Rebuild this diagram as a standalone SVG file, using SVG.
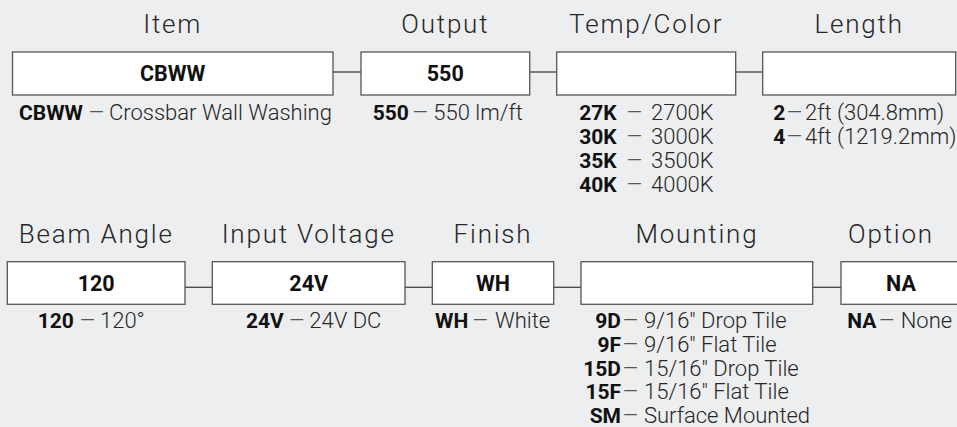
<svg xmlns="http://www.w3.org/2000/svg" width="957" height="427" viewBox="0 0 957 427">
<style>
.bg{fill:#EDEEF0}
.box{fill:#FFFFFF;stroke:#555555;stroke-width:1.3}
.con{stroke:#444444;stroke-width:1.3;fill:none}
.title{font-family:"Roboto Light",Roboto,"Liberation Sans",sans-serif;font-weight:300;font-size:26px;fill:#262626;text-anchor:middle;letter-spacing:1.8px}
.val{font-family:Roboto,"Liberation Sans",sans-serif;font-weight:700;font-size:21.5px;fill:#111111;text-anchor:middle}
.desc{font-family:"Roboto Light",Roboto,"Liberation Sans",sans-serif;font-weight:300;font-size:22px;fill:#262626}
.b{font-family:Roboto,"Liberation Sans",sans-serif;font-weight:700;font-size:21px;fill:#111111}
.d{fill:#555555}
</style>
<rect class="bg" x="0" y="0" width="957" height="427"/>
<g id="connectors">
<line class="con" x1="333" y1="72" x2="361" y2="72"/>
<line class="con" x1="529.7" y1="72" x2="556.7" y2="72"/>
<line class="con" x1="735.7" y1="72" x2="762.7" y2="72"/>
<line class="con" x1="185" y1="287.3" x2="212.3" y2="287.3"/>
<line class="con" x1="405" y1="287.3" x2="432.3" y2="287.3"/>
<line class="con" x1="553.7" y1="287.3" x2="581" y2="287.3"/>
<line class="con" x1="812.7" y1="287.3" x2="841" y2="287.3"/>
</g>
<g id="item">
<text class="title" x="172.7" y="33.3">Item</text>
<rect class="box" x="12.5" y="52" width="320.5" height="43"/>
<text class="val" x="172.7" y="81">CBWW</text>
<text class="desc" y="120"><tspan class="b" x="19">CBWW</tspan><tspan class="d" x="89" textLength="15" lengthAdjust="spacingAndGlyphs">—</tspan><tspan x="109">Crossbar Wall Washing</tspan></text>
</g>
<g id="output">
<text class="title" x="445.3" y="33.3">Output</text>
<rect class="box" x="361" y="52" width="168.7" height="43"/>
<text class="val" x="445.3" y="81">550</text>
<text class="desc" y="120"><tspan class="b" x="372.7">550</tspan><tspan class="d" x="412.7" textLength="15" lengthAdjust="spacingAndGlyphs">—</tspan><tspan x="433.3">550 lm/ft</tspan></text>
</g>
<g id="temp-color">
<text class="title" x="646.2" y="33.3">Temp/Color</text>
<rect class="box" x="556.7" y="52" width="179" height="43"/>
<text class="desc" y="120"><tspan class="b" x="616.7" text-anchor="end">27K</tspan><tspan class="d" x="627" textLength="15" lengthAdjust="spacingAndGlyphs">—</tspan><tspan x="651">2700K</tspan></text>
<text class="desc" y="144"><tspan class="b" x="616.7" text-anchor="end">30K</tspan><tspan class="d" x="627" textLength="15" lengthAdjust="spacingAndGlyphs">—</tspan><tspan x="651">3000K</tspan></text>
<text class="desc" y="168"><tspan class="b" x="616.7" text-anchor="end">35K</tspan><tspan class="d" x="627" textLength="15" lengthAdjust="spacingAndGlyphs">—</tspan><tspan x="651">3500K</tspan></text>
<text class="desc" y="192"><tspan class="b" x="616.7" text-anchor="end">40K</tspan><tspan class="d" x="627" textLength="15" lengthAdjust="spacingAndGlyphs">—</tspan><tspan x="651">4000K</tspan></text>
</g>
<g id="length">
<text class="title" x="859.2" y="33.3">Length</text>
<rect class="box" x="762.7" y="52" width="193" height="43"/>
<text class="desc" y="120"><tspan class="b" x="773.3">2</tspan><tspan class="d" x="787" textLength="15" lengthAdjust="spacingAndGlyphs">—</tspan><tspan x="805">2ft (304.8mm)</tspan></text>
<text class="desc" y="144"><tspan class="b" x="773.3">4</tspan><tspan class="d" x="787" textLength="15" lengthAdjust="spacingAndGlyphs">—</tspan><tspan x="805">4ft (1219.2mm)</tspan></text>
</g>
<g id="beam-angle">
<text class="title" x="96.2" y="243.3">Beam Angle</text>
<rect class="box" x="7.3" y="261.7" width="177.7" height="42.6"/>
<text class="val" x="96.2" y="291">120</text>
<text class="desc" y="328.3"><tspan class="b" x="37.7">120</tspan><tspan class="d" x="80" textLength="15" lengthAdjust="spacingAndGlyphs">—</tspan><tspan x="100">120°</tspan></text>
</g>
<g id="input-voltage">
<text class="title" x="308.7" y="243.3">Input Voltage</text>
<rect class="box" x="212.3" y="261.7" width="192.7" height="42.6"/>
<text class="val" x="308.7" y="291">24V</text>
<text class="desc" y="328.3"><tspan class="b" x="246">24V</tspan><tspan class="d" x="289.3" textLength="15" lengthAdjust="spacingAndGlyphs">—</tspan><tspan x="309.3">24V DC</tspan></text>
</g>
<g id="finish">
<text class="title" x="493" y="243.3">Finish</text>
<rect class="box" x="432.3" y="261.7" width="121.4" height="42.6"/>
<text class="val" x="493" y="291">WH</text>
<text class="desc" y="328.3"><tspan class="b" x="435">WH</tspan><tspan class="d" x="472.7" textLength="15" lengthAdjust="spacingAndGlyphs">—</tspan><tspan x="495">White</tspan></text>
</g>
<g id="mounting">
<text class="title" x="696.9" y="243.3">Mounting</text>
<rect class="box" x="581" y="261.7" width="231.7" height="42.6"/>
<text class="desc" y="328.3"><tspan class="b" x="621" text-anchor="end">9D</tspan><tspan class="d" x="623" textLength="15" lengthAdjust="spacingAndGlyphs">—</tspan><tspan x="644">9/16" Drop Tile</tspan></text>
<text class="desc" y="351.8"><tspan class="b" x="621" text-anchor="end">9F</tspan><tspan class="d" x="623" textLength="15" lengthAdjust="spacingAndGlyphs">—</tspan><tspan x="644">9/16" Flat Tile</tspan></text>
<text class="desc" y="375.5"><tspan class="b" x="621" text-anchor="end">15D</tspan><tspan class="d" x="623" textLength="15" lengthAdjust="spacingAndGlyphs">—</tspan><tspan x="644">15/16" Drop Tile</tspan></text>
<text class="desc" y="399.2"><tspan class="b" x="621" text-anchor="end">15F</tspan><tspan class="d" x="623" textLength="15" lengthAdjust="spacingAndGlyphs">—</tspan><tspan x="644">15/16" Flat Tile</tspan></text>
<text class="desc" y="422.7"><tspan class="b" x="621" text-anchor="end">SM</tspan><tspan class="d" x="623" textLength="15" lengthAdjust="spacingAndGlyphs">—</tspan><tspan x="644">Surface Mounted</tspan></text>
</g>
<g id="option">
<text class="title" x="891" y="243.3">Option</text>
<rect class="box" x="841" y="261.7" width="120" height="42.6"/>
<text class="val" x="901" y="291">NA</text>
<text class="desc" y="328.3"><tspan class="b" x="847.3">NA</tspan><tspan class="d" x="879.3" textLength="15" lengthAdjust="spacingAndGlyphs">—</tspan><tspan x="900.7">None</tspan></text>
</g>
</svg>
